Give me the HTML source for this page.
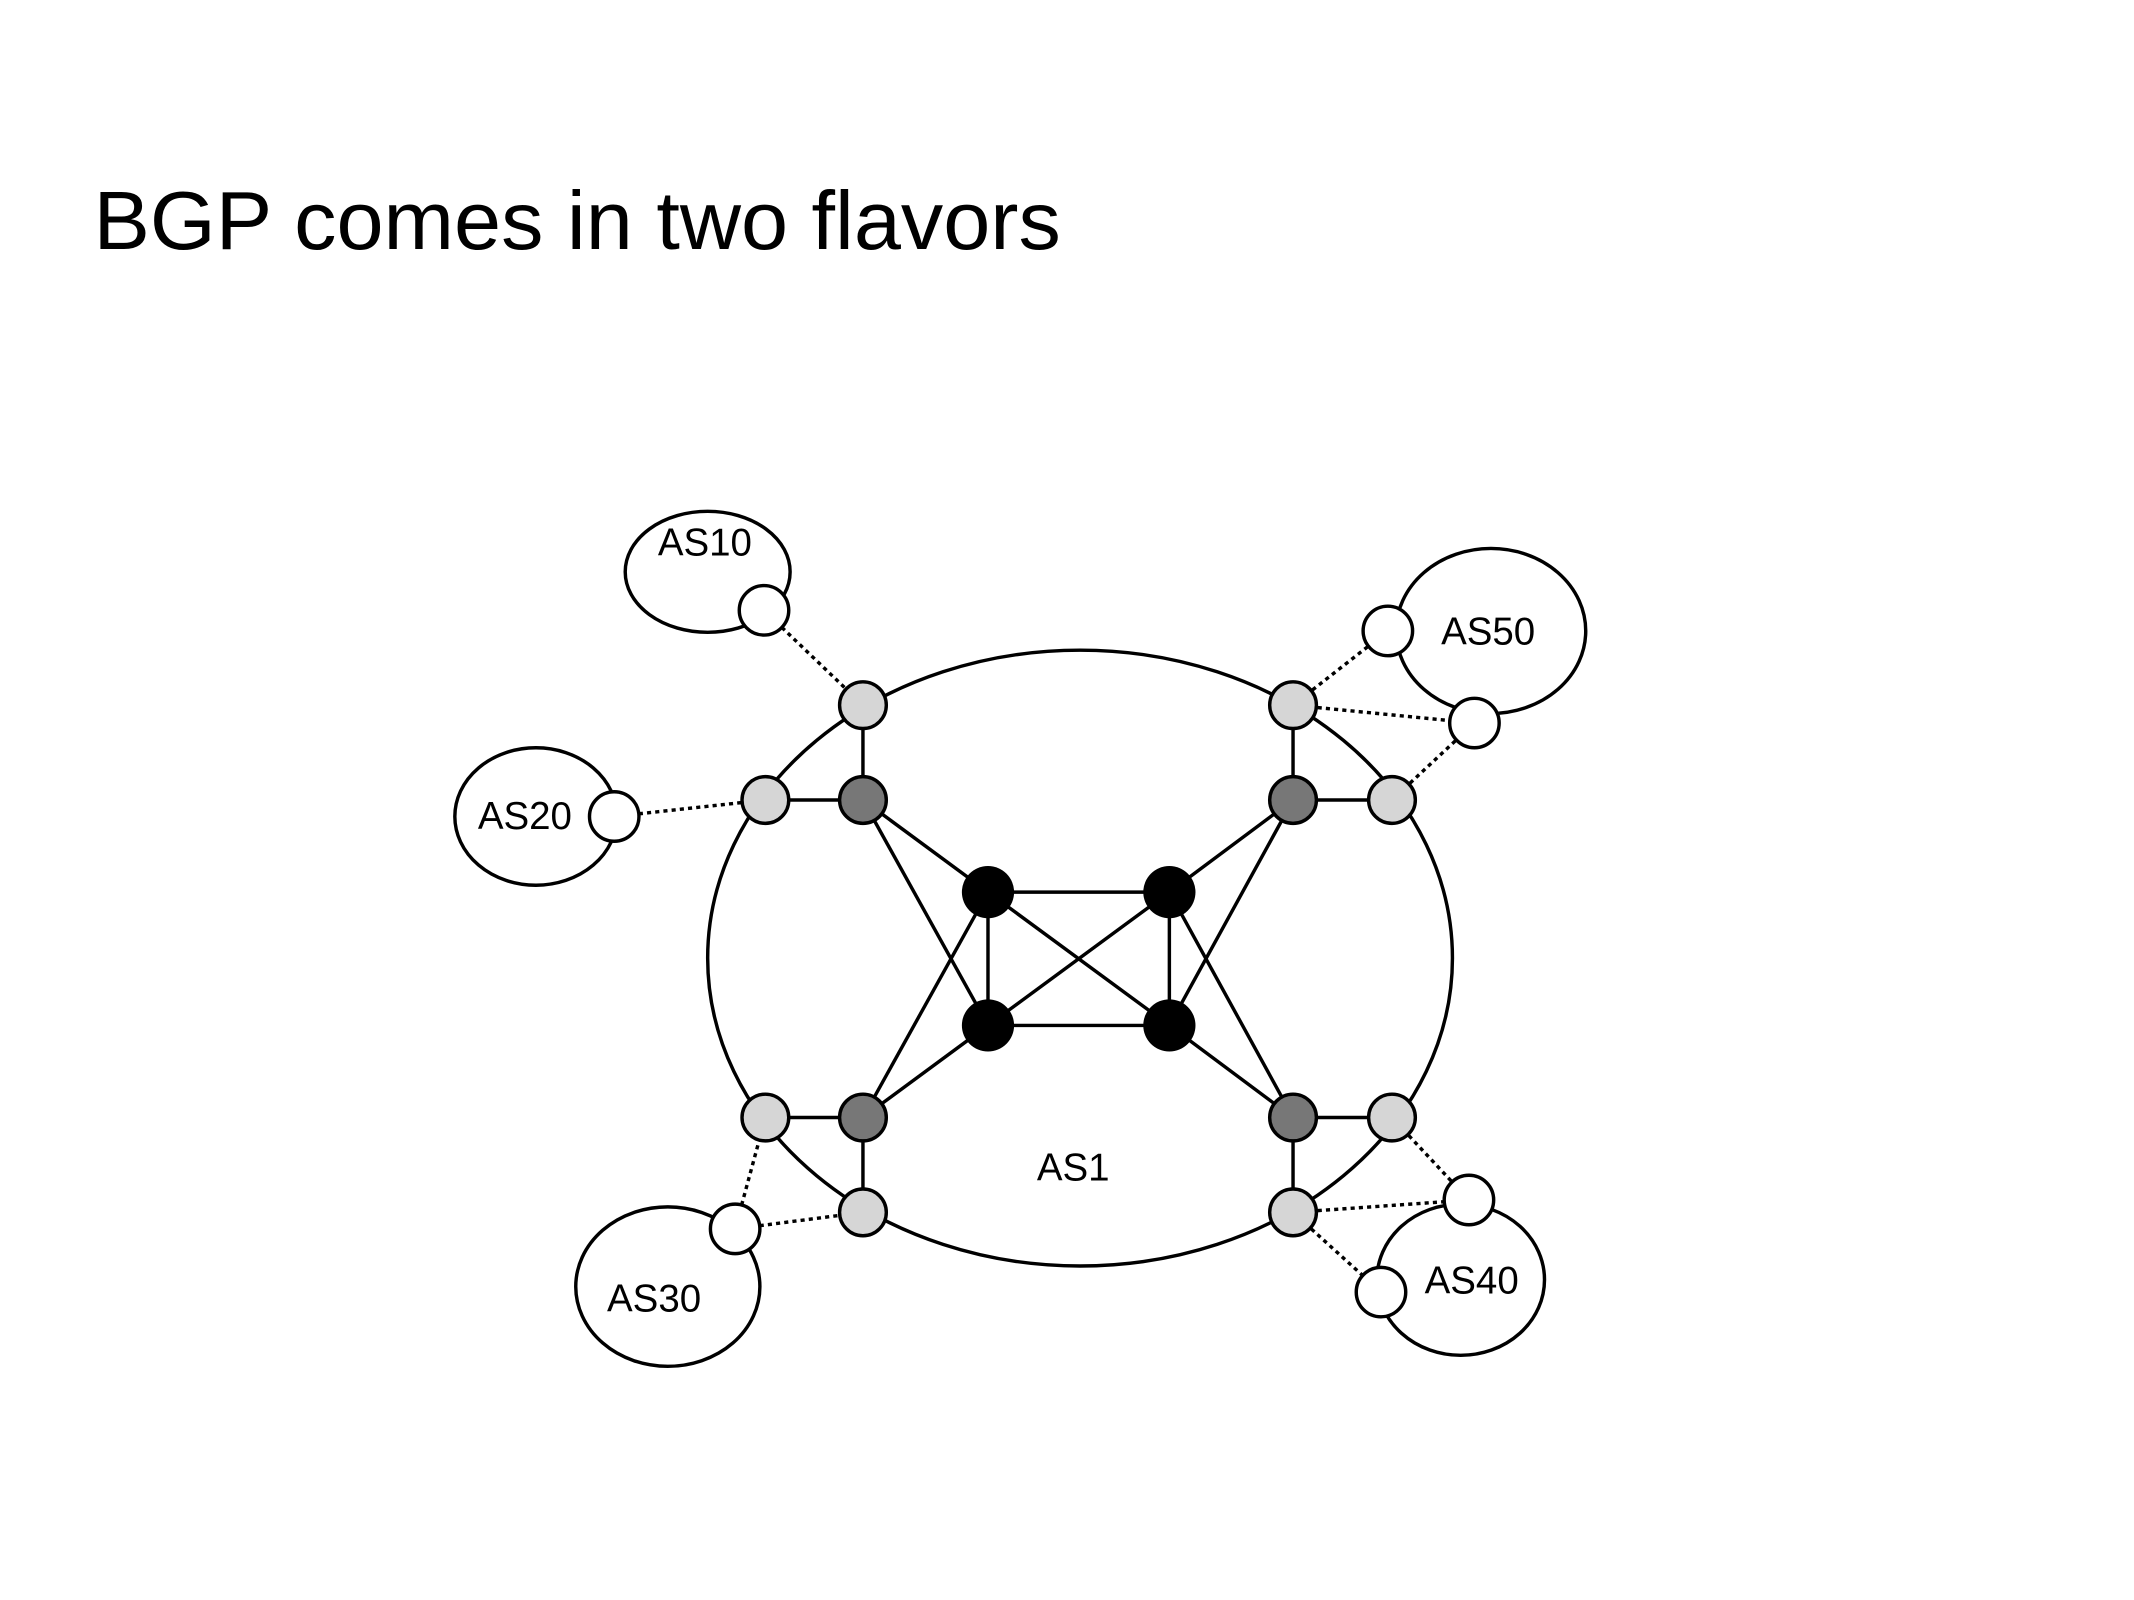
<!DOCTYPE html>
<html><head><style>html,body{margin:0;padding:0;background:#fff}svg{display:block}</style></head>
<body>
<svg width="2134" height="1600" viewBox="0 0 1553 1164" preserveAspectRatio="none" xmlns="http://www.w3.org/2000/svg" font-family="Liberation Sans, DejaVu Sans, sans-serif">
<text x="68" y="181" font-size="60" textLength="704" lengthAdjust="spacingAndGlyphs">BGP comes in two flavors</text>
<g fill="#fff" stroke="#000" stroke-width="2.5">
<ellipse cx="786" cy="697" rx="271" ry="224"/>
<ellipse cx="515" cy="416" rx="60" ry="44"/>
<ellipse cx="390" cy="594" rx="59" ry="50"/>
<ellipse cx="486" cy="936" rx="67" ry="58"/>
<ellipse cx="1063" cy="931" rx="61" ry="55"/>
<ellipse cx="1085" cy="459" rx="69" ry="60"/>
</g>
<g stroke="#000" stroke-width="2.5" stroke-dasharray="3,3">
<line x1="556" y1="444" x2="628" y2="513"/>
<line x1="447" y1="594" x2="557" y2="582"/>
<line x1="535" y1="894" x2="557" y2="813"/>
<line x1="535" y1="894" x2="628" y2="882"/>
<line x1="1013" y1="813" x2="1069" y2="873"/>
<line x1="941" y1="882" x2="1069" y2="873"/>
<line x1="941" y1="882" x2="1005" y2="940"/>
<line x1="941" y1="513" x2="1010" y2="459"/>
<line x1="941" y1="513" x2="1073" y2="526"/>
<line x1="1013" y1="582" x2="1073" y2="526"/>
</g>
<g stroke="#000" stroke-width="2.5">
<line x1="719" y1="649" x2="851" y2="649"/>
<line x1="719" y1="746" x2="851" y2="746"/>
<line x1="719" y1="649" x2="719" y2="746"/>
<line x1="851" y1="649" x2="851" y2="746"/>
<line x1="719" y1="649" x2="851" y2="746"/>
<line x1="851" y1="649" x2="719" y2="746"/>
<line x1="628" y1="582" x2="719" y2="649"/>
<line x1="628" y1="582" x2="719" y2="746"/>
<line x1="628" y1="813" x2="719" y2="746"/>
<line x1="628" y1="813" x2="719" y2="649"/>
<line x1="941" y1="582" x2="851" y2="649"/>
<line x1="941" y1="582" x2="851" y2="746"/>
<line x1="941" y1="813" x2="851" y2="746"/>
<line x1="941" y1="813" x2="851" y2="649"/>
<line x1="628" y1="513" x2="628" y2="582"/>
<line x1="557" y1="582" x2="628" y2="582"/>
<line x1="941" y1="513" x2="941" y2="582"/>
<line x1="1013" y1="582" x2="941" y2="582"/>
<line x1="628" y1="882" x2="628" y2="813"/>
<line x1="557" y1="813" x2="628" y2="813"/>
<line x1="941" y1="882" x2="941" y2="813"/>
<line x1="1013" y1="813" x2="941" y2="813"/>
</g>
<g stroke="#000" stroke-width="2.5" fill="#d6d6d6">
<circle cx="628" cy="513" r="17"/><circle cx="557" cy="582" r="17"/>
<circle cx="941" cy="513" r="17"/><circle cx="1013" cy="582" r="17"/>
<circle cx="557" cy="813" r="17"/><circle cx="628" cy="882" r="17"/>
<circle cx="1013" cy="813" r="17"/><circle cx="941" cy="882" r="17"/>
</g>
<g stroke="#000" stroke-width="2.5" fill="#777">
<circle cx="628" cy="582" r="17"/><circle cx="941" cy="582" r="17"/>
<circle cx="628" cy="813" r="17"/><circle cx="941" cy="813" r="17"/>
</g>
<g fill="#000">
<circle cx="719" cy="649" r="19"/><circle cx="851" cy="649" r="19"/>
<circle cx="719" cy="746" r="19"/><circle cx="851" cy="746" r="19"/>
</g>
<g stroke="#000" stroke-width="2.5" fill="#fff">
<circle cx="556" cy="444" r="18"/><circle cx="447" cy="594" r="18"/>
<circle cx="535" cy="894" r="18"/><circle cx="1069" cy="873" r="18"/>
<circle cx="1005" cy="940" r="18"/><circle cx="1010" cy="459" r="18"/>
<circle cx="1073" cy="526" r="18"/>
</g>
<g font-size="28" text-anchor="middle">
<text x="513" y="404">AS10</text>
<text x="382" y="603">AS20</text>
<text x="476" y="954">AS30</text>
<text x="1071" y="941">AS40</text>
<text x="1083" y="469">AS50</text>
<text x="781" y="859">AS1</text>
</g>
</svg>
</body></html>
